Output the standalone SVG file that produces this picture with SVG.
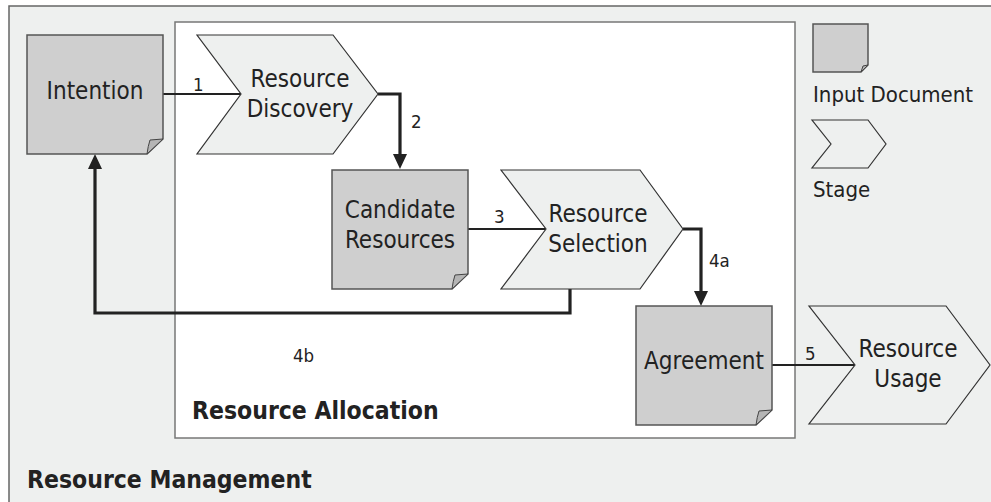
<svg xmlns="http://www.w3.org/2000/svg" width="991" height="502" viewBox="0 0 991 502">
<style>
  .doc { fill: #cfcfcf; stroke: #555; stroke-width: 1.5; }
  .flap { fill: #b5b5b5; stroke: #444; stroke-width: 1; }
  .stage { fill: #eef0ef; stroke: #333; stroke-width: 1.2; }
  text { font-family: "DejaVu Sans Condensed", "DejaVu Sans", "Liberation Sans", sans-serif; font-stretch: condensed; fill: #222; }
  .lbl { font-size: 24px; text-anchor: middle; }
  .elbl { font-size: 18.5px; }
  .title { font-size: 24.5px; font-weight: bold; }
  .leg { font-size: 22px; }
  .thin { fill: none; stroke: #222; stroke-width: 2; }
  .thick { fill: none; stroke: #222; stroke-width: 3.2; marker-end: url(#arr); }
</style>
<defs>
  <marker id="arr" markerUnits="userSpaceOnUse" markerWidth="16" markerHeight="16" refX="11" refY="7" orient="auto">
    <path d="M0,0 L15,7 L0,14 Z" fill="#222"/>
  </marker>
</defs>

<g id="resource-management">
  <rect x="9" y="6" width="1000" height="520" fill="#eef0ef" stroke="#666" stroke-width="1.5"/>
  <text class="title" x="27" y="488">Resource Management</text>
</g>
<g id="resource-allocation">
  <rect x="175" y="22" width="620" height="416" fill="#ffffff" stroke="#777" stroke-width="1.5"/>
  <text class="title" x="192" y="419">Resource Allocation</text>
</g>

<g id="connectors">
  <path class="thin" d="M163,94 H241"/>
  <path class="thick" d="M378,94 H400 V165"/>
  <path class="thin" d="M468,229 H546"/>
  <path class="thick" d="M683,229 H701 V302"/>
  <path class="thick" d="M570,289 V313 H95 V158"/>
  <path class="thin" d="M772,365 H855"/>
  <text class="elbl" x="193" y="91">1</text>
  <text class="elbl" x="411" y="128">2</text>
  <text class="elbl" x="494" y="223">3</text>
  <text class="elbl" x="709" y="267">4a</text>
  <text class="elbl" x="293" y="362">4b</text>
  <text class="elbl" x="805" y="360">5</text>
</g>

<g id="intention">
  <path class="doc" d="M27,35 H163 V139 L147,154 H27 Z"/>
  <path class="flap" d="M163,139 L150,140 Q148,146 147,154 Z"/>
  <text class="lbl" x="95" y="99">Intention</text>
</g>

<g id="resource-discovery">
  <path class="stage" d="M197,35 H333 L378,94 L333,154 H197 L241,94 Z"/>
  <text class="lbl" x="300" y="87">Resource</text>
  <text class="lbl" x="300" y="117">Discovery</text>
</g>

<g id="candidate-resources">
  <path class="doc" d="M332,170 H468 V274 L452,289 H332 Z"/>
  <path class="flap" d="M468,274 L455,275 Q453,281 452,289 Z"/>
  <text class="lbl" x="400" y="218">Candidate</text>
  <text class="lbl" x="400" y="248">Resources</text>
</g>

<g id="resource-selection">
  <path class="stage" d="M501,170 H640 L683,229 L640,289 H501 L546,229 Z"/>
  <text class="lbl" x="598" y="222">Resource</text>
  <text class="lbl" x="598" y="252">Selection</text>
</g>

<g id="agreement">
  <path class="doc" d="M636,306 H772 V410 L756,425 H636 Z"/>
  <path class="flap" d="M772,410 L759,411 Q757,417 756,425 Z"/>
  <text class="lbl" x="704" y="369">Agreement</text>
</g>

<g id="resource-usage">
  <path class="stage" d="M809,306 H946 L990,365 L946,424 H809 L855,365 Z"/>
  <text class="lbl" x="908" y="357">Resource</text>
  <text class="lbl" x="908" y="387">Usage</text>
</g>

<g id="legend-input-document">
  <path class="doc" d="M813,24 H868 V65 L861,72 H813 Z"/>
  <path class="flap" d="M868,65 L863,66 Q862,69 861,72 Z"/>
  <text class="leg" x="813" y="102">Input Document</text>
</g>

<g id="legend-stage">
  <path class="stage" d="M812,120 H868 L886,144 L868,168 H812 L831,144 Z"/>
  <text class="leg" x="813" y="197">Stage</text>
</g>
</svg>
